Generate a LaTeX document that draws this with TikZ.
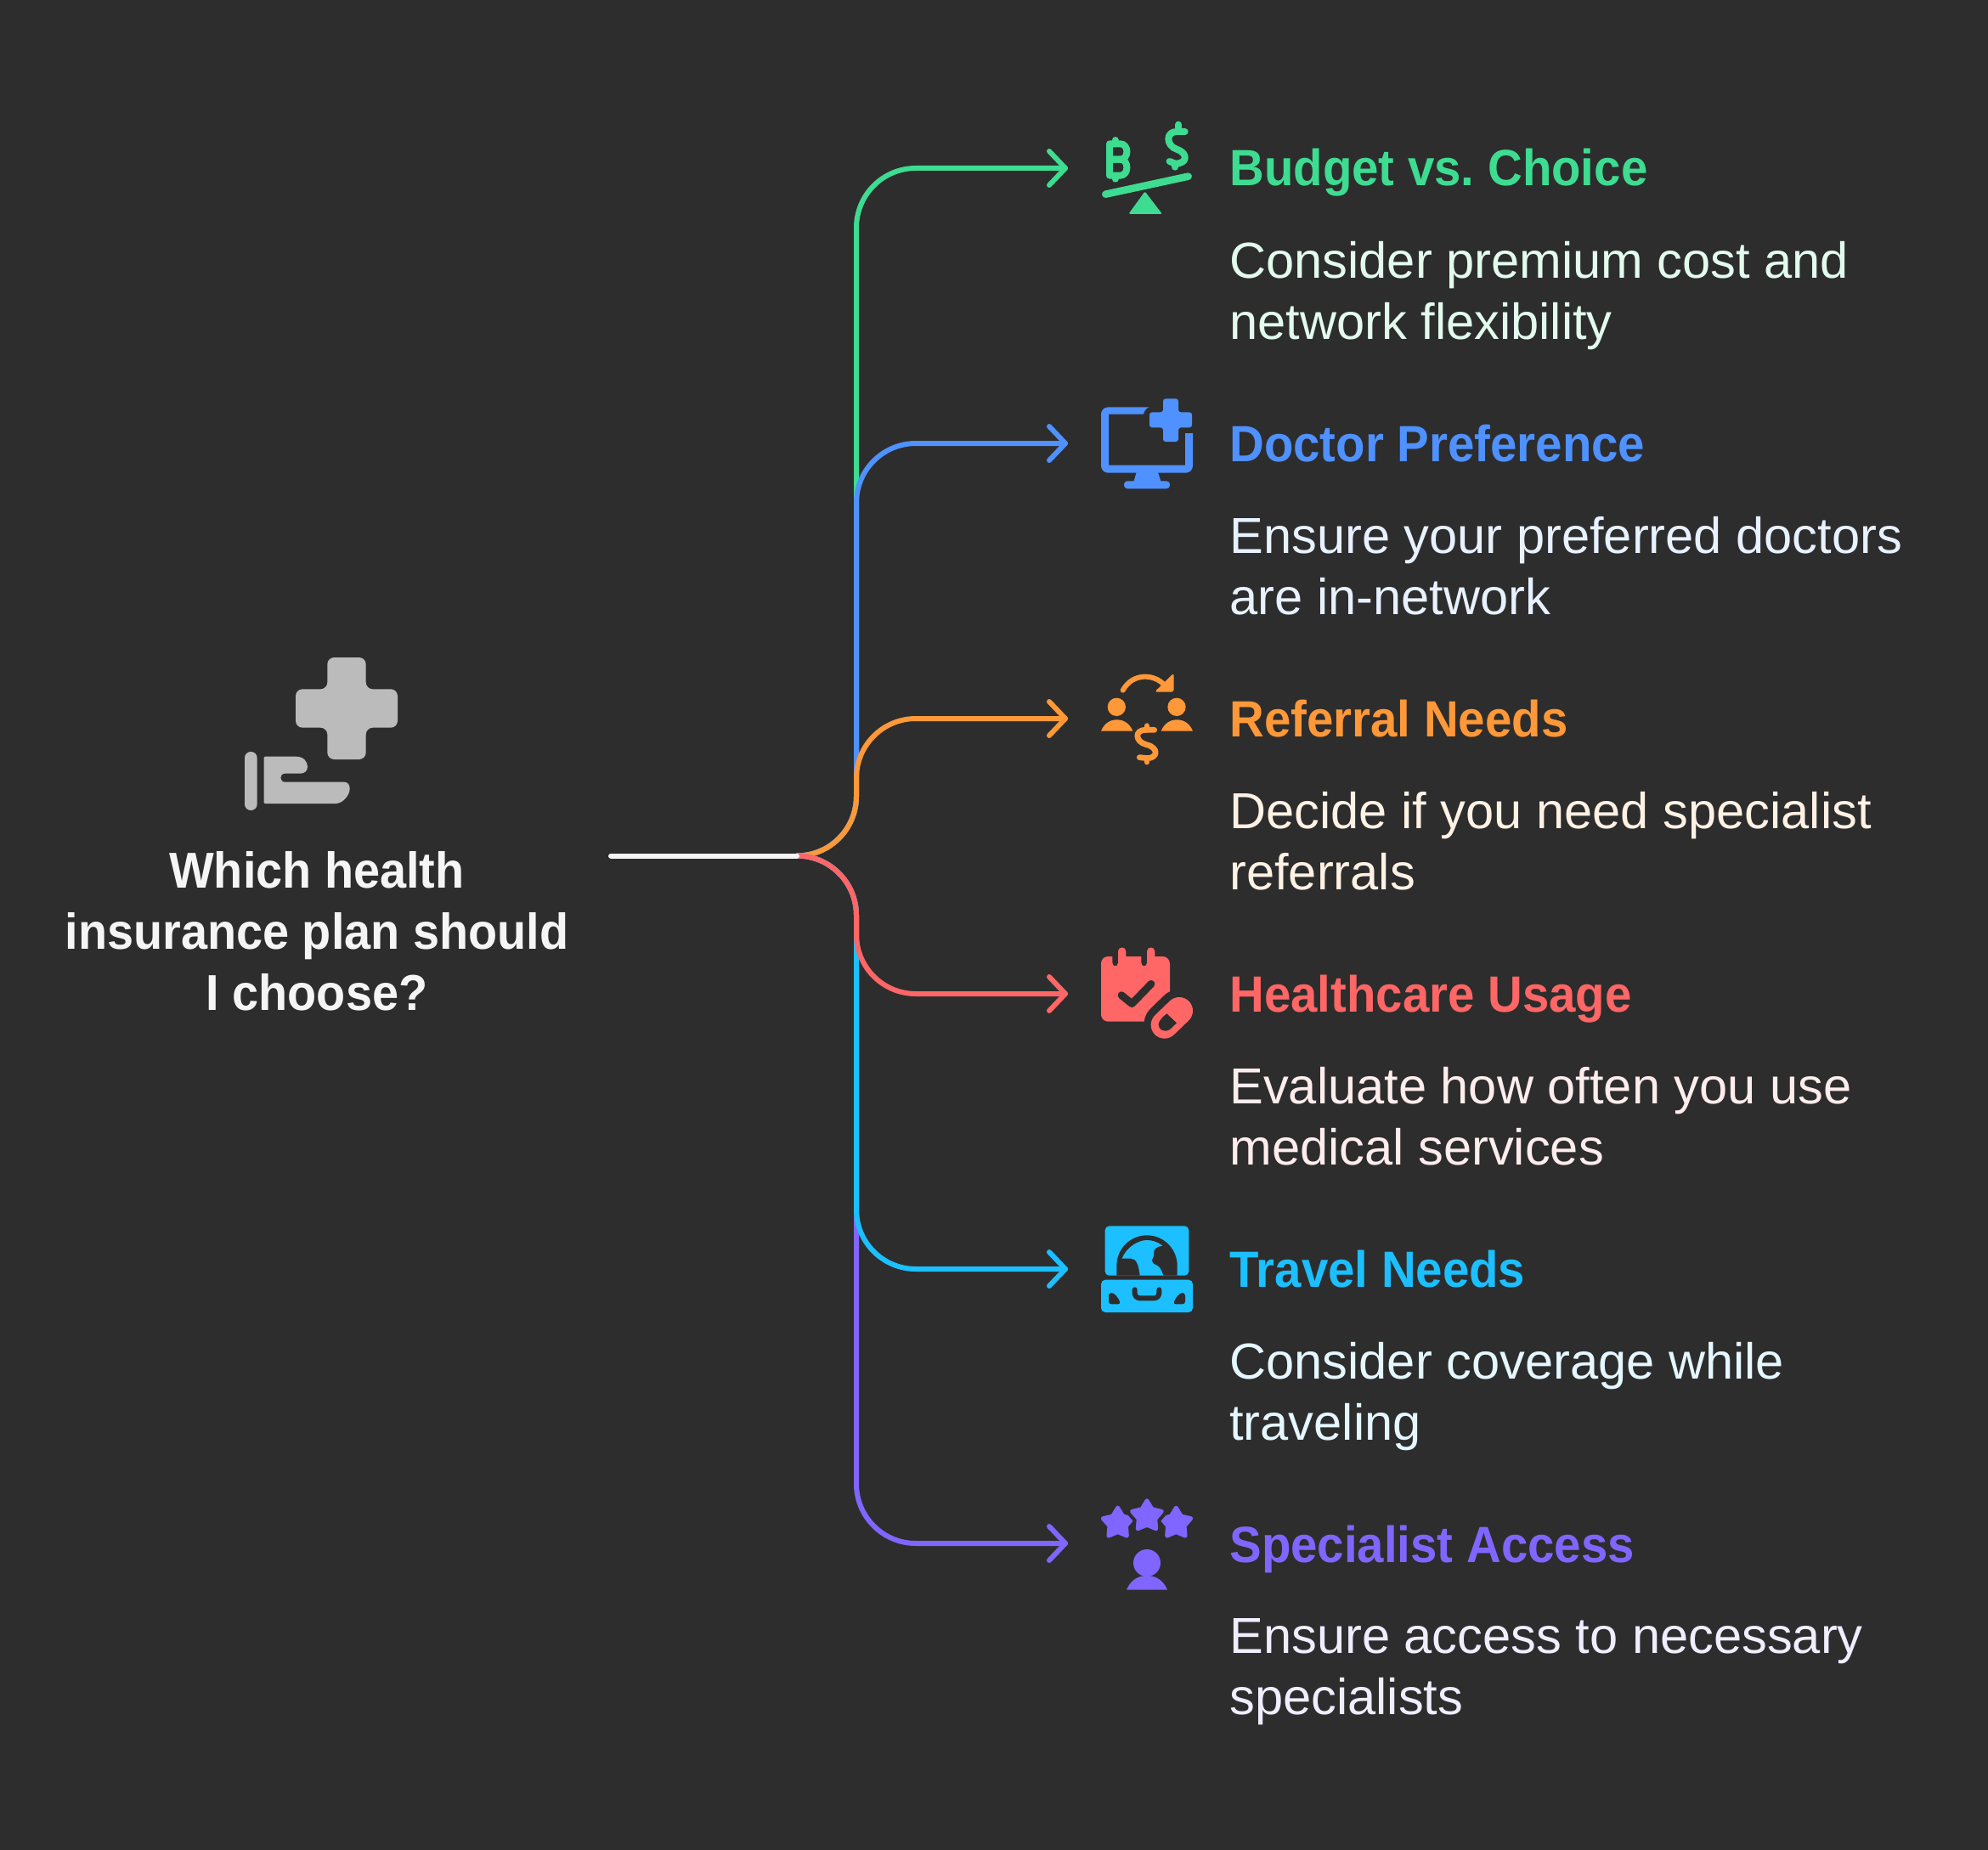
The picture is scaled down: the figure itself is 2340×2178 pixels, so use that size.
\documentclass[tikz,border=0pt]{standalone}
\usepackage{fontspec}
\usetikzlibrary{calc}
\setmainfont{Liberation Sans}[BoldFeatures={FakeStretch=0.94}]
\definecolor{bg}{HTML}{2D2D2D}
\definecolor{cgreen}{HTML}{3DDC91}
\definecolor{cblue}{HTML}{4F91FF}
\definecolor{corange}{HTML}{FF9838}
\definecolor{cred}{HTML}{FF6666}
\definecolor{ccyan}{HTML}{1CBFFF}
\definecolor{cpurple}{HTML}{8066FF}
\definecolor{cwhite}{HTML}{F5F5F5}
\definecolor{cgray}{HTML}{BBBBBB}
\definecolor{tgreen}{HTML}{E2FBEE}
\definecolor{tblue}{HTML}{E8F1FF}
\definecolor{torange}{HTML}{FFF2E5}
\definecolor{tred}{HTML}{FFEDED}
\definecolor{tcyan}{HTML}{E5F7FF}
\definecolor{tpurple}{HTML}{F0EDFF}
\tikzset{
  conn/.style={line width=3pt,line cap=round,line join=round},
  arrowend/.style={line width=3pt,line cap=round,line join=round},
  headtext/.style={anchor=base west,inner sep=0pt,font=\fontsize{30}{36}\selectfont\bfseries\frenchspacing},
  bodytext/.style={anchor=north west,inner sep=0pt,align=left,font=\fontsize{29.8}{36}\selectfont},
  roottext/.style={anchor=center,inner sep=0pt,align=center,text=cwhite,font=\fontsize{29.7}{36}\selectfont\bfseries},
  ico/.style={scale=1/3},
  stk/.style={line width=4pt,line cap=round,line join=round}
}
\newcommand{\rstar}[3]{%
  \begin{scope}[shift={(#1,#2)}]
  \filldraw[#3,line width=2.4pt,line join=round]
    (-90:55)--(-54:31)--(-18:55)--(18:31)--(54:55)--(90:31)--(126:55)--(162:31)--(198:55)--(234:31)--cycle;
  \end{scope}}
\begin{document}
\begin{tikzpicture}[x=0.5pt,y=-0.5pt]
\useasboundingbox (0,0) rectangle (2340,2178);
\fill[bg] (0,0) rectangle (2340,2178);

% text
\node[roottext] (root) at (373,1096.5) {Which health\\insurance plan should\\I choose?};
\node[headtext,text=cgreen] (h1) at (1447,219) {Budget vs. Choice};
\node[bodytext,text=tgreen] (b1) at (1447,284) {Consider premium cost and\\network flexibility};
\node[headtext,text=cblue] (h2) at (1447,543) {Doctor Preference};
\node[bodytext,text=tblue] (b2) at (1447,608) {Ensure your preferred doctors\\are in-network};
\node[headtext,text=corange] (h3) at (1447,867) {Referral Needs};
\node[bodytext,text=torange] (b3) at (1447,932) {Decide if you need specialist\\referrals};
\node[headtext,text=cred] (h4) at (1447,1191) {Healthcare Usage};
\node[bodytext,text=tred] (b4) at (1447,1256) {Evaluate how often you use\\medical services};
\node[headtext,text=ccyan] (h5) at (1447,1515) {Travel Needs};
\node[bodytext,text=tcyan] (b5) at (1447,1580) {Consider coverage while\\traveling};
\node[headtext,text=cpurple] (h6) at (1447,1839) {Specialist Access};
\node[bodytext,text=tpurple] (b6) at (1447,1905) {Ensure access to necessary\\specialists};

% connector anchors
\coordinate (s) at (719,1007.5);
\coordinate (hub) at (938,1007.5);
\coordinate (e1) at (1254,198);
\coordinate (e2) at (1254,522);
\coordinate (e3) at (1254,846);
\coordinate (e4) at (1254,1170);
\coordinate (e5) at (1254,1494);
\coordinate (e6) at (1254,1817);

% connectors
\draw[conn,cgreen,rounded corners=35pt] (hub) -| (1008,198) -- (e1);
\draw[conn,cblue,rounded corners=35pt] (hub) -| (1008,522) -- (e2);
\draw[conn,corange,rounded corners=35pt] (hub) -| (1008,846) -- (e3);
\draw[conn,cpurple,rounded corners=35pt] (hub) -| (1008,1817) -- (e6);
\draw[conn,ccyan,rounded corners=35pt] (hub) -| (1008,1494) -- (e5);
\draw[conn,cred,rounded corners=35pt] (hub) -| (1008,1170) -- (e4);
\draw[conn,cwhite] (s) -- (hub);
\foreach \e/\c in {e1/cgreen,e2/cblue,e3/corange,e4/cred,e5/ccyan,e6/cpurple}{
  \draw[arrowend,\c] ($(\e)+(-19,-20)$) -- (\e) -- ($(\e)+(-19,20)$);
}

% root icon
\begin{scope}[shift={(270,760)},ico]
\fill[cgray,rounded corners=4pt] (346,42)--(482,42)--(482,154)--(594,154)--(594,290)--(482,290)--(482,402)--(346,402)--(346,290)--(234,290)--(234,154)--(346,154)--cycle;
\fill[cgray,rounded corners=3.6pt] (54,375) rectangle (98,582);
\fill[cgray] (126,392)--(235,392) .. controls (262,392) and (276,410) .. (276,428) .. controls (276,443) and (265,452) .. (250,452) -- (196,452) .. controls (176,452) and (176,482) .. (196,482) -- (405,482) .. controls (418,482) and (425,492) .. (425,505) .. controls (425,530) and (400,558) .. (375,558) -- (126,558) .. controls (123,558) and (122,556) .. (122,554) -- (122,396) .. controls (122,394) and (123,392) .. (126,392) -- cycle;
\end{scope}

% icon 1
\begin{scope}[shift={(1270,120)},ico]
\draw[stk,cgreen,line width=4.3pt] (94,326)--(386,263);
\fill[cgreen,rounded corners=1pt] (233,316)--(294,396)--(175,396)--cycle;
\draw[stk,cgreen] (108,148)--(146,148) .. controls (177,148) and (177,203) .. (146,203) -- (108,203) -- cycle;
\draw[stk,cgreen] (108,203)--(146,203) .. controls (177,203) and (177,260) .. (146,260) -- (108,260) -- cycle;
\draw[stk,cgreen] (128,135)--(128,148) (128,260)--(128,272);
\draw[stk,cgreen] (374,105)--(345,105) .. controls (305,105) and (308,155) .. (345,167) .. controls (385,180) and (385,218) .. (340,218) -- (320,210);
\draw[stk,cgreen] (352,80)--(352,105) (340,218)--(340,230);
\end{scope}

% icon 2
\begin{scope}[shift={(1270,450)},ico]
\fill[cblue] (248,88) -- (103,88) .. controls (89,88) and (78,99) .. (78,113) -- (78,295) .. controls (78,309) and (89,320) .. (103,320) -- (377,320) .. controls (391,320) and (402,309) .. (402,295) -- (402,180) -- (375,180) -- (375,293) -- (105,293) -- (105,113) -- (228,113) .. controls (230,100) and (238,92) .. (248,88) -- cycle;
\fill[cblue,rounded corners=1.5pt] (297,58)--(351,58)--(351,106)--(399,106)--(399,160)--(351,160)--(351,210)--(297,210)--(297,160)--(249,160)--(249,106)--(297,106)--cycle;
\fill[cblue] (203,318)--(279,318)--(290,352)--(193,352)--cycle;
\fill[cblue,rounded corners=2pt] (159,349) rectangle (321,376);
\end{scope}

% icon 3
\begin{scope}[shift={(1270,770)},ico]
\draw[corange,line width=3pt,line cap=round] (155,128) .. controls (190,65) and (265,70) .. (300,108);
\fill[corange,rounded corners=1.5pt] (335,67)--(335,134)--(267,134)--cycle;
\fill[corange] (133,187) circle[radius=32] (345,187) circle[radius=32];
\fill[corange] (78,272) .. controls (88,247) and (108,232) .. (134,232) .. controls (160,232) and (180,247) .. (190,272) -- cycle;
\fill[corange] (290,272) .. controls (300,247) and (320,232) .. (346,232) .. controls (372,232) and (392,247) .. (402,272) -- cycle;
\draw[stk,corange,line width=3.4pt] (266,268)--(235,268) .. controls (195,268) and (198,310) .. (238,320) .. controls (282,330) and (280,368) .. (240,368) -- (214,365);
\draw[stk,corange,line width=3.4pt] (240,254)--(240,268) (240,368)--(240,381);
\end{scope}

% icon 4
\begin{scope}[shift={(1270,1100)},ico]
\fill[cred] (103,78)--(118,78)--(118,100) .. controls (118,116) and (138,116) .. (138,100) -- (138,60) .. controls (138,42) and (166,42) .. (166,60) -- (166,78) -- (220,78) -- (220,100) .. controls (220,116) and (240,116) .. (240,100) -- (240,60) .. controls (240,42) and (268,42) .. (268,60) -- (268,78) -- (295,78) .. controls (310,78) and (321,89) .. (321,104) -- (321,202) .. controls (310,205) and (300,215) .. (250,265) .. controls (238,277) and (232,292) .. (230,308) -- (103,308) .. controls (89,308) and (78,297) .. (78,283) -- (78,103) .. controls (78,89) and (89,78) .. (103,78) -- cycle;
\draw[bg,line width=4.4pt,line cap=round,line join=round] (150,215)--(187,245)--(255,175);
\draw[cred,line width=16pt,line cap=round] (354,270)--(302,320);
\fill[bg] (310,280)--(345,313)--(322,335) .. controls (300,350) and (280,335) .. (281,318) .. controls (282,305) and (295,292) .. (310,280) -- cycle;
\end{scope}

% icon 5
\begin{scope}[shift={(1270,1430)},ico]
\fill[ccyan,rounded corners=2.5pt] (92,40) rectangle (388,215);
\fill[bg] (133,215) -- (133,180) arc[start angle=180,end angle=360,radius=107] -- (347,215) -- cycle;
\fill[ccyan] (152,155) .. controls (165,120) and (205,90) .. (240,90) .. controls (260,90) and (280,97) .. (295,110) .. controls (275,112) and (262,122) .. (265,135) .. controls (268,150) and (250,160) .. (262,172) .. controls (275,182) and (285,175) .. (298,215) -- (215,215) .. controls (212,185) and (205,155) .. (185,155) -- cycle;
\fill[ccyan,rounded corners=2.5pt] (78,230) rectangle (402,345);
\draw[bg,line width=3pt,line cap=round,line join=round,rounded corners=3pt] (197,265)--(197,295)--(283,295)--(283,265);
\fill[bg,rounded corners=1.5pt] (105,277) .. controls (125,275) and (140,295) .. (147,316) -- (105,316) -- cycle;
\fill[bg,rounded corners=1.5pt] (375,277) .. controls (355,275) and (340,295) .. (333,316) -- (375,316) -- cycle;
\end{scope}

% icon 6
\begin{scope}[shift={(1270,1750)},ico]
\rstar{137}{130}{fill=cpurple,draw=cpurple}
\rstar{343}{130}{fill=cpurple,draw=cpurple}
\begin{scope}[shift={(240,105)}]
\draw[bg,line width=6.5pt,line join=round] (-90:55)--(-54:31)--(-18:55)--(18:31)--(54:55)--(90:31)--(126:55)--(162:31)--(198:55)--(234:31)--cycle;
\end{scope}
\rstar{240}{105}{fill=cpurple,draw=cpurple}
\fill[cpurple] (240,270) circle[radius=48];
\fill[cpurple] (168,365) .. controls (180,335) and (205,315) .. (240,315) .. controls (275,315) and (300,335) .. (312,365) -- cycle;
\end{scope}
\end{tikzpicture}
\end{document}
